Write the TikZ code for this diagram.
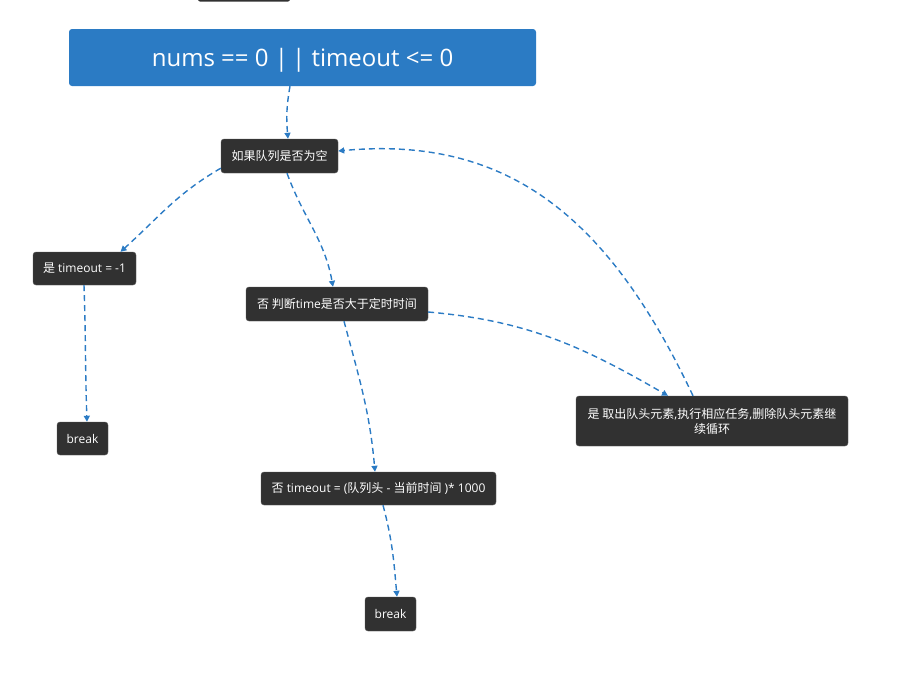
\documentclass[tikz,border=0pt]{standalone}
\usepackage{fontspec}
\setmainfont{Open Sans}
\newfontfamily\cjk{Noto Sans CJK SC}
\newcommand{\zh}[1]{{\cjk #1}}
\usetikzlibrary{arrows.meta,calc}
\definecolor{xblue}{HTML}{2B7BC4}
\definecolor{xdark}{HTML}{313131}
\tikzset{
  darkbox/.style={fill=xdark, draw=xdark!80!white, rounded corners=3pt, text=white, inner sep=0pt,
    font=\fontsize{12}{16}\selectfont, align=center},
  bluebox/.style={fill=xblue, rounded corners=3pt, text=white, inner sep=0pt,
    font=\fontsize{24}{26}\selectfont},
  link/.style={draw=xblue, line width=1.4pt, dash pattern=on 6pt off 4pt,
    -{Triangle[length=6pt,width=6pt]}}
}
\begin{document}
\begin{tikzpicture}[x=1pt,y=-1pt]
\useasboundingbox (0,0) rectangle (906,694);
% partially visible node at the top edge
\fill[xdark, rounded corners=2pt] (198,-6) rectangle (290,1.5);
\node[bluebox, minimum width=467pt, minimum height=57pt] (root) at (302.5,57.5) {};
\node[text=white, font=\fontsize{24}{26}\selectfont, anchor=base] (roottext) at (302.5,66) {nums == 0 |\,| timeout <= 0};
\node[darkbox, minimum width=117pt, minimum height=34pt] (q1) at (279.5,156) {\zh{如果队列是否为空}};
\node[darkbox, minimum width=103pt, minimum height=33pt] (t1) at (84.5,268.5) {\zh{是} timeout = -1};
\node[darkbox, minimum width=182pt, minimum height=34pt] (n1) at (337,304) {\zh{否 判断}time\zh{是否大于定时时间}};
\node[darkbox, minimum width=272pt, minimum height=50pt] (y2) at (712,421) {\zh{是 取出队头元素},\zh{执行相应任务},\zh{删除队头元素继}\\[-1pt]\zh{续循环}};
\node[darkbox, minimum width=51pt, minimum height=33pt] (b1) at (82.5,438.5) {break};
\node[darkbox, minimum width=235pt, minimum height=33pt] (n2) at (378.5,488.5) {\zh{否} timeout = (\zh{队列头} - \zh{当前时间} )* 1000};
\node[darkbox, minimum width=51pt, minimum height=34pt] (b2) at (390.5,614) {break};

\draw[link] ([xshift=-12.5pt]root.south) to[out=-100,in=95] ([xshift=8.5pt]q1.north);
\draw[link] ([yshift=5pt]q1.south west) to[out=210,in=42] ([xshift=36pt]t1.north);
\draw[link] ([xshift=7.5pt]q1.south) to[out=-70,in=100] ([xshift=-4pt]n1.north);
\draw[link] ([yshift=-8pt]n1.east) to[out=-5,in=150] ([xshift=-44pt]y2.north);
\draw[link] ([xshift=-19pt]y2.north) .. controls (610,220) and (510,135) .. ([yshift=5pt]q1.east);
\draw[link] ([xshift=-0.5pt]t1.south) to[out=-88,in=92] ([xshift=4.5pt]b1.north);
\draw[link] ([xshift=7pt]n1.south) to[out=-75,in=95] ([xshift=-3.5pt]n2.north);
\draw[link] ([xshift=4.5pt]n2.south) to[out=-75,in=95] ([xshift=6.5pt]b2.north);
\end{tikzpicture}
\end{document}
